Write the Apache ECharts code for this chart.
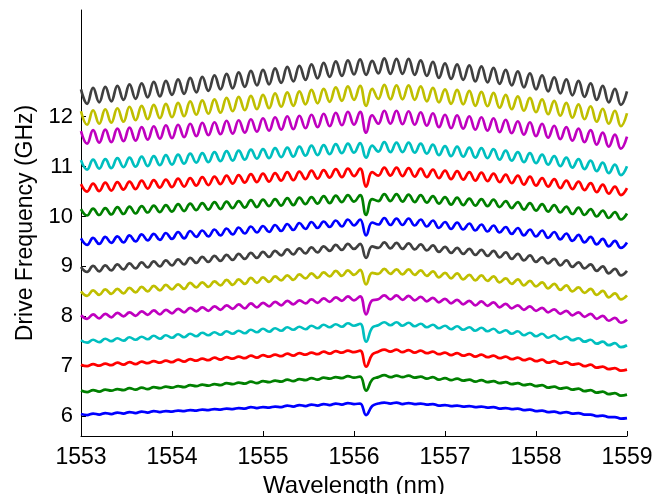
<!DOCTYPE html>
<html>
<head>
<meta charset="utf-8">
<title>Drive Frequency vs Wavelength</title>
<script src="https://cdn.jsdelivr.net/npm/echarts@6/dist/echarts.min.js"></script>
<style>
  html, body { margin: 0; padding: 0; background: #fff; }
  #main { width: 666px; height: 494px; }
</style>
</head>
<body>
<div id="main"></div>
<script>
// wavelength samples (nm)
var wl = [1553.000,1553.067,1553.133,1553.200,1553.267,1553.333,1553.400,1553.467,1553.533,1553.600,1553.667,1553.733,1553.800,1553.867,1553.933,
  1554.000,1554.067,1554.133,1554.200,1554.267,1554.333,1554.400,1554.467,1554.533,1554.600,1554.667,1554.733,1554.800,1554.867,1554.933,
  1555.000,1555.067,1555.133,1555.200,1555.267,1555.333,1555.400,1555.467,1555.533,1555.600,1555.667,1555.733,1555.800,1555.867,1555.933,
  1556.000,1556.067,1556.133,1556.200,1556.267,1556.333,1556.400,1556.467,1556.533,1556.600,1556.667,1556.733,1556.800,1556.867,1556.933,
  1557.000,1557.067,1557.133,1557.200,1557.267,1557.333,1557.400,1557.467,1557.533,1557.600,1557.667,1557.733,1557.800,1557.867,1557.933,
  1558.000,1558.067,1558.133,1558.200,1558.267,1558.333,1558.400,1558.467,1558.533,1558.600,1558.667,1558.733,1558.800,1558.867,1558.933,
  1559.000]

var f6 = [6.04,6.02,6.05,6.03,6.06,6.04,6.07,6.05,6.08,6.06,6.09,6.07,6.10,6.08,6.10,6.09,6.11,6.10,6.12,6.11,6.13,6.12,6.14,6.13,6.15,6.14,6.16,6.15,6.18,6.16,6.18,6.17,6.19,6.18,6.21,6.19,6.22,6.20,6.23,6.21,6.24,6.22,6.25,6.23,6.26,6.24,
  6.25,6.02,6.20,
  6.25,6.27,6.25,6.27,6.24,6.26,6.24,6.25,6.23,6.24,6.21,6.22,6.20,6.21,6.19,6.20,6.18,6.19,6.17,6.18,6.15,6.16,6.14,6.15,6.12,6.13,6.10,6.11,6.08,6.09,6.06,6.08,6.05,6.06,6.03,6.03,6.00,6.01,5.98,5.98,5.95,5.96]
var f6_5 = [6.51,6.48,6.52,6.49,6.53,6.51,6.54,6.52,6.56,6.53,6.57,6.54,6.58,6.56,6.59,6.57,6.60,6.58,6.62,6.60,6.63,6.61,6.64,6.62,6.66,6.64,6.67,6.65,6.69,6.66,6.70,6.68,6.71,6.69,6.73,6.70,6.74,6.72,6.76,6.73,6.77,6.75,6.78,6.76,6.80,6.77,
  6.79,6.51,6.73,
  6.78,6.82,6.78,6.81,6.78,6.81,6.77,6.79,6.75,6.78,6.73,6.76,6.72,6.75,6.71,6.73,6.69,6.72,6.68,6.70,6.66,6.68,6.64,6.66,6.62,6.64,6.60,6.62,6.57,6.59,6.55,6.57,6.53,6.55,6.50,6.52,6.47,6.49,6.44,6.46,6.41,6.43]
var f7 = [7.03,7.00,7.04,7.01,7.05,7.02,7.07,7.03,7.08,7.04,7.09,7.06,7.10,7.07,7.11,7.08,7.13,7.09,7.14,7.11,7.15,7.12,7.17,7.13,7.18,7.15,7.19,7.16,7.21,7.17,7.22,7.19,7.23,7.20,7.25,7.21,7.26,7.23,7.27,7.24,7.29,7.25,7.30,7.27,7.31,7.28,
  7.31,6.99,7.23,
  7.29,7.33,7.29,7.33,7.28,7.32,7.27,7.31,7.26,7.29,7.24,7.27,7.22,7.26,7.21,7.24,7.19,7.23,7.18,7.21,7.16,7.19,7.14,7.17,7.12,7.15,7.10,7.13,7.07,7.10,7.05,7.08,7.03,7.05,7.00,7.03,6.97,6.99,6.94,6.96,6.91,6.93]
var f7_5 = [7.52,7.47,7.53,7.48,7.55,7.50,7.56,7.51,7.58,7.53,7.59,7.54,7.61,7.55,7.62,7.57,7.64,7.58,7.65,7.60,7.67,7.62,7.68,7.63,7.70,7.65,7.71,7.66,7.73,7.68,7.75,7.69,7.76,7.71,7.78,7.73,7.79,7.74,7.81,7.76,7.83,7.78,7.84,7.79,7.86,7.81,
  7.85,7.49,7.77,
  7.82,7.88,7.82,7.88,7.81,7.87,7.80,7.85,7.78,7.83,7.76,7.81,7.74,7.80,7.73,7.78,7.71,7.77,7.70,7.75,7.67,7.72,7.65,7.70,7.62,7.67,7.60,7.65,7.57,7.62,7.54,7.59,7.52,7.56,7.49,7.53,7.45,7.49,7.42,7.46,7.38,7.42]
var f8 = [8.02,7.95,8.04,7.96,8.05,7.98,8.07,8.00,8.08,8.01,8.10,8.03,8.12,8.04,8.13,8.06,8.15,8.08,8.17,8.10,8.18,8.11,8.20,8.13,8.22,8.15,8.24,8.16,8.26,8.18,8.27,8.20,8.29,8.22,8.31,8.24,8.32,8.26,8.34,8.27,8.36,8.29,8.38,8.31,8.40,8.32,
  8.40,8.04,8.32,
  8.34,8.42,8.34,8.42,8.33,8.41,8.32,8.39,8.30,8.37,8.28,8.35,8.26,8.33,8.24,8.31,8.22,8.30,8.21,8.28,8.18,8.25,8.16,8.22,8.13,8.20,8.11,8.17,8.08,8.14,8.05,8.11,8.02,8.08,7.99,8.05,7.95,8.01,7.91,7.97,7.87,7.93]
var f8_5 = [8.50,8.41,8.52,8.43,8.54,8.45,8.55,8.46,8.57,8.48,8.59,8.50,8.61,8.52,8.63,8.54,8.64,8.55,8.67,8.58,8.68,8.59,8.70,8.62,8.73,8.63,8.74,8.65,8.77,8.67,8.78,8.69,8.80,8.72,8.82,8.73,8.84,8.76,8.86,8.77,8.88,8.80,8.91,8.81,8.92,8.83,
  8.93,8.64,8.87,
  8.85,8.95,8.85,8.94,8.84,8.94,8.83,8.92,8.81,8.90,8.78,8.87,8.76,8.86,8.74,8.83,8.72,8.82,8.71,8.80,8.68,8.76,8.65,8.74,8.62,8.71,8.60,8.68,8.56,8.65,8.53,8.62,8.50,8.58,8.47,8.55,8.43,8.51,8.38,8.46,8.34,8.42]
var f9 = [8.99,8.89,9.01,8.90,9.02,8.92,9.04,8.94,9.06,8.96,9.08,8.98,9.10,9.00,9.12,9.02,9.14,9.04,9.17,9.07,9.19,9.09,9.21,9.11,9.23,9.13,9.25,9.15,9.27,9.17,9.29,9.19,9.31,9.22,9.34,9.24,9.36,9.26,9.38,9.28,9.40,9.31,9.43,9.33,9.45,9.35,
  9.45,9.17,9.40,
  9.37,9.48,9.36,9.47,9.35,9.46,9.34,9.44,9.32,9.42,9.29,9.39,9.27,9.37,9.25,9.35,9.23,9.33,9.21,9.31,9.18,9.28,9.15,9.25,9.12,9.22,9.09,9.18,9.06,9.15,9.02,9.12,8.99,9.08,8.96,9.04,8.91,9.00,8.86,8.95,8.82,8.91]
var f9_5 = [9.56,9.43,9.57,9.45,9.59,9.47,9.60,9.48,9.62,9.50,9.64,9.52,9.65,9.53,9.67,9.55,9.69,9.56,9.71,9.59,9.72,9.60,9.74,9.62,9.76,9.64,9.78,9.66,9.80,9.68,9.81,9.69,9.83,9.71,9.85,9.73,9.87,9.75,9.89,9.77,9.90,9.79,9.92,9.80,9.94,9.82,
  9.94,9.62,9.88,
  9.84,9.97,9.83,9.96,9.83,9.96,9.82,9.94,9.80,9.92,9.77,9.89,9.75,9.88,9.74,9.86,9.72,9.84,9.70,9.82,9.68,9.79,9.65,9.77,9.62,9.74,9.60,9.72,9.57,9.69,9.54,9.66,9.51,9.63,9.48,9.59,9.44,9.55,9.40,9.51,9.37,9.48]
var f10 = [10.15,10.02,10.16,10.03,10.17,10.04,10.19,10.05,10.20,10.06,10.21,10.08,10.22,10.09,10.23,10.10,10.25,10.11,10.26,10.13,10.27,10.14,10.29,10.15,10.30,10.17,10.31,10.18,10.33,10.19,10.34,10.21,10.35,10.22,10.37,10.23,10.38,10.25,10.39,10.26,10.41,10.27,10.42,10.29,10.43,10.30,
  10.43,10.03,10.35,
  10.31,10.45,10.31,10.45,10.30,10.44,10.29,10.43,10.28,10.41,10.26,10.39,10.24,10.38,10.23,10.36,10.22,10.35,10.21,10.34,10.19,10.31,10.17,10.29,10.14,10.27,10.12,10.25,10.10,10.23,10.08,10.20,10.05,10.18,10.03,10.15,10.00,10.12,9.97,10.09,9.94,10.06]
var f10_5 = [10.65,10.50,10.66,10.51,10.68,10.52,10.69,10.54,10.70,10.55,10.72,10.56,10.73,10.58,10.74,10.59,10.76,10.60,10.77,10.62,10.79,10.63,10.80,10.65,10.82,10.66,10.83,10.68,10.85,10.69,10.86,10.70,10.87,10.72,10.89,10.73,10.90,10.75,10.92,10.76,10.93,10.78,10.95,10.79,10.96,10.81,
  10.96,10.60,10.89,
  10.82,10.98,10.82,10.98,10.81,10.97,10.80,10.96,10.79,10.94,10.77,10.92,10.75,10.91,10.74,10.89,10.72,10.88,10.71,10.86,10.69,10.84,10.67,10.82,10.64,10.80,10.62,10.77,10.60,10.75,10.57,10.72,10.55,10.70,10.53,10.67,10.49,10.64,10.46,10.60,10.43,10.57]
var f11 = [11.13,10.94,11.14,10.96,11.15,10.97,11.17,10.99,11.18,11.00,11.20,11.01,11.21,11.03,11.23,11.04,11.24,11.06,11.26,11.08,11.27,11.09,11.29,11.11,11.31,11.12,11.32,11.14,11.34,11.16,11.35,11.17,11.37,11.19,11.38,11.20,11.40,11.22,11.42,11.23,11.43,11.25,11.45,11.27,11.46,11.28,
  11.47,11.18,11.42,
  11.30,11.49,11.29,11.48,11.29,11.48,11.28,11.46,11.26,11.44,11.23,11.41,11.21,11.40,11.20,11.38,11.18,11.37,11.17,11.35,11.14,11.32,11.12,11.29,11.09,11.27,11.07,11.24,11.04,11.21,11.01,11.18,10.98,11.15,10.95,11.12,10.91,11.08,10.87,11.04,10.83,11.01]
var f11_5 = [11.71,11.46,11.73,11.48,11.74,11.49,11.76,11.51,11.78,11.52,11.79,11.54,11.81,11.56,11.83,11.57,11.84,11.59,11.86,11.61,11.88,11.63,11.89,11.65,11.92,11.66,11.93,11.68,11.95,11.70,11.97,11.72,11.99,11.74,12.01,11.75,12.02,11.77,12.04,11.79,12.06,11.81,12.08,11.83,12.10,11.84,
  12.10,11.68,12.03,
  11.86,12.12,11.86,12.12,11.85,12.11,11.84,12.09,11.82,12.07,11.79,12.04,11.77,12.03,11.76,12.01,11.74,11.99,11.72,11.97,11.69,11.94,11.67,11.91,11.64,11.89,11.61,11.86,11.58,11.82,11.55,11.79,11.52,11.76,11.49,11.73,11.44,11.68,11.40,11.64,11.36,11.60]
var f12 = [12.11,11.84,12.13,11.86,12.15,11.88,12.17,11.90,12.20,11.93,12.22,11.95,12.24,11.97,12.26,11.99,12.28,12.01,12.31,12.04,12.33,12.06,12.35,12.08,12.38,12.11,12.40,12.13,12.42,12.15,12.44,12.17,12.47,12.20,12.49,12.22,12.51,12.25,12.54,12.27,12.56,12.30,12.59,12.32,12.61,12.34,
  12.62,12.22,12.56,
  12.36,12.64,12.35,12.63,12.35,12.63,12.34,12.61,12.31,12.58,12.29,12.55,12.26,12.54,12.25,12.52,12.22,12.50,12.21,12.48,12.18,12.44,12.15,12.41,12.12,12.38,12.09,12.35,12.05,12.32,12.02,12.28,11.98,12.25,11.95,12.21,11.90,12.16,11.86,12.12,11.81,12.07]
var f12_5 = [12.55,12.26,12.58,12.29,12.60,12.31,12.62,12.34,12.65,12.36,12.67,12.39,12.70,12.41,12.72,12.44,12.75,12.46,12.78,12.49,12.80,12.52,12.83,12.55,12.86,12.57,12.89,12.60,12.92,12.63,12.94,12.65,12.97,12.68,13.00,12.71,13.02,12.74,13.05,12.77,13.08,12.80,13.11,12.82,13.13,12.85,
  13.15,12.84,13.12,
  12.87,13.17,12.86,13.16,12.86,13.16,12.84,13.13,12.82,13.10,12.78,13.07,12.76,13.05,12.74,13.03,12.71,13.01,12.69,12.98,12.66,12.94,12.63,12.91,12.59,12.87,12.55,12.83,12.51,12.79,12.47,12.75,12.43,12.72,12.40,12.67,12.34,12.62,12.29,12.56,12.24,12.51]

var xTicks = [1553, 1554, 1555, 1556, 1557, 1558, 1559]
var yTicks = [6, 7, 8, 9, 10, 11, 12]

// matlab default line colours, bottom trace first
var traces = [
  { name: '6', data: f6, color: '#0000ff' },
  { name: '6.5', data: f6_5, color: '#008000' },
  { name: '7', data: f7, color: '#ff0000' },
  { name: '7.5', data: f7_5, color: '#00bfbf' },
  { name: '8', data: f8, color: '#bf00bf' },
  { name: '8.5', data: f8_5, color: '#bfbf00' },
  { name: '9', data: f9, color: '#404040' },
  { name: '9.5', data: f9_5, color: '#0000ff' },
  { name: '10', data: f10, color: '#008000' },
  { name: '10.5', data: f10_5, color: '#ff0000' },
  { name: '11', data: f11, color: '#00bfbf' },
  { name: '11.5', data: f11_5, color: '#bf00bf' },
  { name: '12', data: f12, color: '#bfbf00' },
  { name: '12.5', data: f12_5, color: '#404040' }
]

var font = 'Liberation Sans, Arial, sans-serif'
var chart = echarts.init(document.getElementById('main'), null, { renderer: 'canvas' })

var option = {
  animation: false,
  backgroundColor: '#fff',
  // keep the plot box fixed, the x label may run off the bottom edge like the original
  grid: { left: 81, right: 39, top: 10, bottom: 58, outerBoundsMode: 'none', containLabel: false },
  xAxis: {
    type: 'value',
    min: xTicks[0],
    max: xTicks[xTicks.length - 1],
    interval: 1,
    name: 'Wavelength (nm)',
    nameLocation: 'middle',
    nameGap: 33,
    nameTextStyle: { fontFamily: font, fontSize: 24, color: '#000' },
    axisLine: { lineStyle: { color: '#000', width: 1 } },
    axisTick: { inside: true, length: 5, lineStyle: { color: '#000' } },
    axisLabel: {
      fontFamily: font, fontSize: 23, color: '#000', margin: 10,
      formatter: function (v) { return String(v) }
    },
    splitLine: { show: false }
  },
  yAxis: {
    type: 'value',
    min: 5.6,
    max: 14.14,
    name: 'Drive Frequency (GHz)',
    nameLocation: 'middle',
    nameGap: 42,
    nameRotate: 90,
    nameTextStyle: { fontFamily: font, fontSize: 23, color: '#000' },
    axisLine: { show: true, lineStyle: { color: '#000', width: 1 } },
    axisTick: { show: true, inside: true, length: 5, customValues: yTicks, lineStyle: { color: '#000' } },
    axisLabel: { fontFamily: font, fontSize: 22, color: '#000', margin: 8, customValues: yTicks },
    splitLine: { show: false }
  },
  series: traces.map(function (t) {
    return {
      name: t.name,
      type: 'line',
      data: wl.map(function (x, i) { return [x, t.data[i]] }),
      showSymbol: false,
      smooth: 0.45,
      lineStyle: { color: t.color, width: 2.7 },
      itemStyle: { color: t.color }
    }
  })
}

chart.setOption(option)
</script>
</body>
</html>
